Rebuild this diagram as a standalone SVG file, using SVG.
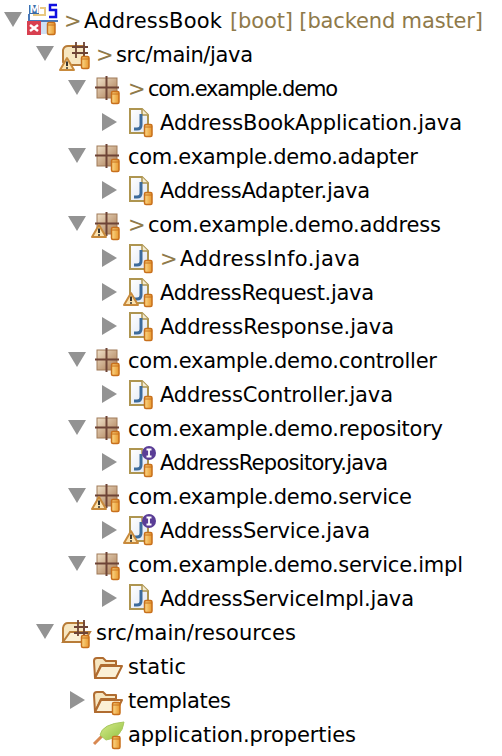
<svg xmlns="http://www.w3.org/2000/svg" width="502" height="756" viewBox="0 0 502 756">
<style>
text{font-family:"DejaVu Sans","Liberation Sans",sans-serif;font-size:21px;fill:#000}
.d{fill:#8f7a4a}
</style>
<defs>
<linearGradient id="gp" x1="0" y1="0" x2="1" y2="1"><stop offset="0" stop-color="#efe0c8"/><stop offset="1" stop-color="#a87850"/></linearGradient>
<linearGradient id="gy" x1="0" y1="0" x2="1" y2="0"><stop offset="0" stop-color="#fbd98a"/><stop offset="1" stop-color="#e8972c"/></linearGradient>
<linearGradient id="gf" x1="0" y1="0" x2="1" y2="1"><stop offset="0" stop-color="#fff"/><stop offset="1" stop-color="#dfe6f2"/></linearGradient>
<linearGradient id="gl" x1="0" y1="0" x2="1" y2="1"><stop offset="0" stop-color="#d8ec8c"/><stop offset="1" stop-color="#90c040"/></linearGradient>
<g id="down"><path d="M0 0H18L9 15Z" fill="#939393"/></g>
<g id="right"><path d="M0 0L15 9L0 18Z" fill="#939393"/></g>
<g id="jar"><rect x="0.500" y="0.500" width="7.500" height="12" rx="1.500" fill="url(#gy)" stroke="#c8701c" stroke-width="1.500"/><path d="M0.500 3H8" stroke="#c8701c" fill="none"/></g>
<g id="warn"><path d="M7 1L14 13H0Z" fill="#fbe3b0" stroke="#c88a3c" stroke-width="2" stroke-linejoin="round"/><path d="M7 4.500V9M7 10.300V11.800" stroke="#222" stroke-width="1.800" fill="none"/></g>
<g id="info"><circle cx="7" cy="7" r="7" fill="#5a3d96"/><path d="M4.500 3.500H9.500M7 3.500V10.500M4.500 10.500H9.500" stroke="#fff" stroke-width="1.800" fill="none"/></g>
<g id="pkg"><rect x="2" y="2" width="20" height="20" fill="url(#gp)" stroke="#a07a58"/><path d="M0 11.500H24M11.500 0V24" stroke="#6e4436" stroke-width="2" fill="none"/><use href="#jar" x="16" y="15"/></g>
<g id="file"><path d="M1 1H13L19 7V25H1Z" fill="url(#gf)" stroke="#ae9550" stroke-width="2"/><path d="M13 1V7H19" fill="#f3ecd3" stroke="#ae9550" stroke-width="1.500"/><path d="M12 6V17Q12 21 8 21H5" fill="none" stroke="#3c6b9c" stroke-width="3"/><use href="#jar" x="15" y="16"/></g>
<g id="folder"><path d="M1 5Q1 2 4 2H10L13 5H23V9H8L2 22Z" fill="#f7e6c0" stroke="#b06c30" stroke-width="2" stroke-linejoin="round"/><path d="M2 22L8 10H29L23 22Z" fill="#fbf0d6" stroke="#b06c30" stroke-width="2" stroke-linejoin="round"/></g>
</defs>
<g id="connectors"></g>
<g id="n-root">
<use href="#down" x="4" y="12"/>
<path d="M29 14V21H58" fill="none" stroke="#4a78b8" stroke-width="2"/>
<rect x="29" y="5" width="10" height="9" fill="#3c6ca8"/><text x="29.500" y="13" style="font-size:10px;font-weight:bold;fill:#fff">M</text>
<path d="M40 8H45V15H33" fill="none" stroke="#e8c880" stroke-width="2"/>
<path d="M57 5H50V10H56V17H49" fill="none" stroke="#1010e0" stroke-width="2.500"/>
<rect x="27" y="21" width="14" height="14" fill="#d84050"/><path d="M30 25L38 31M38 25L30 31" stroke="#fff" stroke-width="2.500"/>
<rect x="41" y="22" width="6" height="12" fill="#cfe0f4"/>
<use href="#jar" x="47" y="22"/>
<text class="d" x="64" y="28">&gt;</text>
<text x="84" y="28" textLength="138">AddressBook</text>
<text class="d" x="230" y="28" textLength="253">[boot] [backend master]</text>
</g>
<g id="n-srcjava">
<use href="#down" x="36" y="46"/>
<path d="M63 62V50Q64 46 68 46H84V65H66Z" fill="#f7e6c0" stroke="#b87c38" stroke-width="2"/>
<path d="M72 47H88M72 53H88M76 42V58M84 42V58" stroke="#6e4436" stroke-width="1.800" fill="none"/>
<use href="#warn" x="60" y="57"/><use href="#jar" x="81" y="56"/>
<text class="d" x="96" y="62">&gt;</text><text x="116" y="62" textLength="137">src/main/java</text>
</g>
<g id="n-demo"><use href="#down" x="68" y="80"/><use href="#pkg" x="95" y="76"/><text class="d" x="128" y="96">&gt;</text><text x="148" y="96" textLength="190">com.example.demo</text></g>
<g id="n-app"><use href="#right" x="102" y="113"/><use href="#file" x="129" y="108"/><text x="160" y="130" textLength="302">AddressBookApplication.java</text></g>
<g id="n-adapter"><use href="#down" x="68" y="148"/><use href="#pkg" x="95" y="144"/><text x="128" y="164" textLength="290">com.example.demo.adapter</text></g>
<g id="n-adapterj"><use href="#right" x="102" y="181"/><use href="#file" x="129" y="176"/><text x="160" y="198" textLength="210">AddressAdapter.java</text></g>
<g id="n-address"><use href="#down" x="68" y="216"/><use href="#pkg" x="95" y="212"/><use href="#warn" x="92" y="224"/><text class="d" x="128" y="232">&gt;</text><text x="148" y="232" textLength="293">com.example.demo.address</text></g>
<g id="n-info"><use href="#right" x="102" y="249"/><use href="#file" x="129" y="244"/><text class="d" x="160" y="266">&gt;</text><text x="180" y="266" textLength="180">AddressInfo.java</text></g>
<g id="n-req"><use href="#right" x="102" y="283"/><use href="#file" x="129" y="278"/><use href="#warn" x="124" y="292"/><text x="160" y="300" textLength="214">AddressRequest.java</text></g>
<g id="n-resp"><use href="#right" x="102" y="317"/><use href="#file" x="129" y="312"/><text x="160" y="334" textLength="234">AddressResponse.java</text></g>
<g id="n-controller"><use href="#down" x="68" y="352"/><use href="#pkg" x="95" y="348"/><text x="128" y="368" textLength="309">com.example.demo.controller</text></g>
<g id="n-controllerj"><use href="#right" x="102" y="385"/><use href="#file" x="129" y="380"/><text x="160" y="402" textLength="233">AddressController.java</text></g>
<g id="n-repo"><use href="#down" x="68" y="420"/><use href="#pkg" x="95" y="416"/><text x="128" y="436" textLength="315">com.example.demo.repository</text></g>
<g id="n-repoj"><use href="#right" x="102" y="453"/><use href="#file" x="129" y="448"/><use href="#info" x="142" y="446"/><text x="160" y="470" textLength="228">AddressRepository.java</text></g>
<g id="n-service"><use href="#down" x="68" y="488"/><use href="#pkg" x="95" y="484"/><use href="#warn" x="92" y="496"/><text x="128" y="504" textLength="284">com.example.demo.service</text></g>
<g id="n-servicej"><use href="#right" x="102" y="521"/><use href="#file" x="129" y="516"/><use href="#info" x="142" y="514"/><use href="#warn" x="124" y="530"/><text x="160" y="538" textLength="210">AddressService.java</text></g>
<g id="n-impl"><use href="#down" x="68" y="556"/><use href="#pkg" x="95" y="552"/><text x="128" y="572" textLength="335">com.example.demo.service.impl</text></g>
<g id="n-implj"><use href="#right" x="102" y="589"/><use href="#file" x="129" y="584"/><text x="160" y="606" textLength="254">AddressServiceImpl.java</text></g>
<g id="n-srcres">
<use href="#down" x="36" y="624"/>
<path d="M63 642V628Q64 623 68 623H84V642Z" fill="#f7e6c0" stroke="#b87c38" stroke-width="2"/>
<path d="M63 642L70 632H90L84 642Z" fill="#fbf0d6" stroke="#b87c38" stroke-width="2"/>
<path d="M74 627H88M74 633H88M78 620V636M84 620V636" stroke="#6e4436" stroke-width="1.800" fill="none"/>
<use href="#jar" x="81" y="635"/>
<text x="96" y="640" textLength="200">src/main/resources</text>
</g>
<g id="n-static"><use href="#folder" x="93" y="656"/><text x="128" y="674" textLength="58">static</text></g>
<g id="n-templates"><use href="#right" x="70" y="691"/><use href="#folder" x="93" y="690"/><use href="#jar" x="112" y="702"/><text x="128" y="708" textLength="103">templates</text></g>
<g id="n-props">
<path d="M94 744L108 730" stroke="#d88850" stroke-width="3" fill="none"/>
<path d="M100 735Q102 724 124 722Q122 738 106 740Z" fill="url(#gl)" stroke="#a8c860"/>
<use href="#jar" x="112" y="736"/>
<text x="128" y="742" textLength="228">application.properties</text>
</g>
</svg>
